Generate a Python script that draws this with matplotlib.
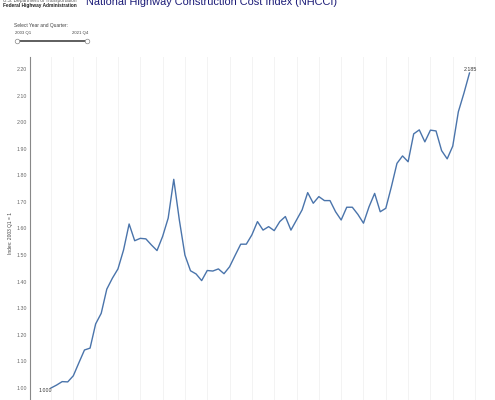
import matplotlib
matplotlib.use("Agg")
import matplotlib.pyplot as plt
from matplotlib.lines import Line2D

plt.rcParams['font.family'] = ['Liberation Sans', 'DejaVu Sans']

# ---- data ----
years = list(range(2003, 2022))
quarters = [f"{y} Q{q}" for y in years for q in (1, 2, 3, 4)]
nhcci = [1.000, 1.011, 1.024, 1.023, 1.046, 1.095, 1.143, 1.150,
         1.241, 1.281, 1.372, 1.413, 1.448, 1.519, 1.617, 1.554,
         1.563, 1.561, 1.538, 1.517, 1.570, 1.639, 1.785, 1.632,
         1.500, 1.441, 1.429, 1.404, 1.442, 1.440, 1.448, 1.430,
         1.456, 1.499, 1.541, 1.541, 1.576, 1.626, 1.594, 1.607,
         1.592, 1.626, 1.645, 1.594, 1.632, 1.670, 1.735, 1.695,
         1.720, 1.705, 1.705, 1.663, 1.632, 1.680, 1.680, 1.653,
         1.620, 1.682, 1.732, 1.663, 1.676, 1.757, 1.845, 1.873,
         1.851, 1.956, 1.971, 1.926, 1.970, 1.967, 1.893, 1.862,
         1.910, 2.039, 2.109, 2.185]
yticks = [1.00, 1.10, 1.20, 1.30, 1.40, 1.50, 1.60, 1.70, 1.80, 1.90, 2.00, 2.10, 2.20]
title = "National Highway Construction Cost Index (NHCCI)"
ylabel = "Index: 2003 Q1 = 1"
slider_start, slider_end = "2003 Q1", "2021 Q4"

W, H = 495, 400
fig = plt.figure(figsize=(W / 100, H / 100), dpi=100)

def fx(px):
    return px / W

def fy(py):
    return 1 - py / H

ax_left, ax_right, ax_top, ax_bottom = 30, 485, 57, 410
ax = fig.add_axes([fx(ax_left), fy(ax_bottom), (ax_right - ax_left) / W, (ax_bottom - ax_top) / H])

x = list(range(len(nhcci)))
ax.plot(x, nhcci, color='#4a74ab', lw=1.0, solid_joinstyle='round')

ppq = (469.5 - 51) / 75.0
ax.set_xlim(-(51 - ax_left) / ppq, (ax_right - 51) / ppq)
ppu = (388 - 69) / 1.2
ax.set_ylim(1 - (ax_bottom - 388) / ppu, 1 + (388 - ax_top) / ppu)

ax.set_xticks(list(range(0, len(nhcci) + 1, 4)))
ax.set_xticklabels([])
ax.tick_params(axis='x', length=0)
ax.grid(axis='x', color='#f3f3f3', lw=0.7)
ax.set_axisbelow(True)

ax.set_yticks(yticks)
ax.set_yticklabels([f"{v:.2f}" for v in yticks])
ax.tick_params(axis='y', length=0, pad=2.3, labelsize=3.8, labelcolor='#666666')

for s in ('top', 'right', 'bottom'):
    ax.spines[s].set_visible(False)
ax.spines['left'].set_color('#888888')
ax.spines['left'].set_linewidth(0.8)

# end labels
ax.annotate(f"{nhcci[0]:.3f}", (x[0], nhcci[0]), xytext=(-6, -3), textcoords='offset pixels',
            ha='center', va='center', fontsize=3.8, color='#333333')
ax.annotate(f"{nhcci[-1]:.3f}", (x[-1], nhcci[-1]), xytext=(0.5, 3.5), textcoords='offset pixels',
            ha='center', va='center', fontsize=3.8, color='#333333')

# y label
fig.text(fx(11), fy(233), ylabel, rotation=90, ha='center', va='center', fontsize=3.5, color='#444444')

# title (cropped at top, as in the reference)
fig.text(fx(86), fy(4.7), title, ha='left', va='baseline', fontsize=7.95, color='#1c1c78')

# header text top-left
fig.text(fx(3), fy(0.3), "U.S. Department of Transportation", ha='left', va='center', fontsize=3.4, color='#555555')
fig.text(fx(3), fy(6), "Federal Highway Administration", ha='left', va='center', fontsize=3.4,
         color='#222222', fontweight='bold')

# slider
fig.text(fx(14), fy(25), "Select Year and Quarter:", ha='left', va='center', fontsize=3.5, color='#444444')
fig.text(fx(15), fy(33), slider_start, ha='left', va='center', fontsize=3.1, color='#444444')
fig.text(fx(88), fy(33), slider_end, ha='right', va='center', fontsize=3.1, color='#444444')
fig.add_artist(Line2D([fx(17), fx(87)], [fy(40.7), fy(40.7)], color='#333333', lw=1.1,
                      transform=fig.transFigure))
for hx in (16.5, 87.3):
    fig.add_artist(Line2D([fx(hx)], [fy(40.7)], marker='o', markersize=3.3, markerfacecolor='white',
                          markeredgecolor='#888888', markeredgewidth=0.5, transform=fig.transFigure))

fig.savefig("out.png", dpi=100)
